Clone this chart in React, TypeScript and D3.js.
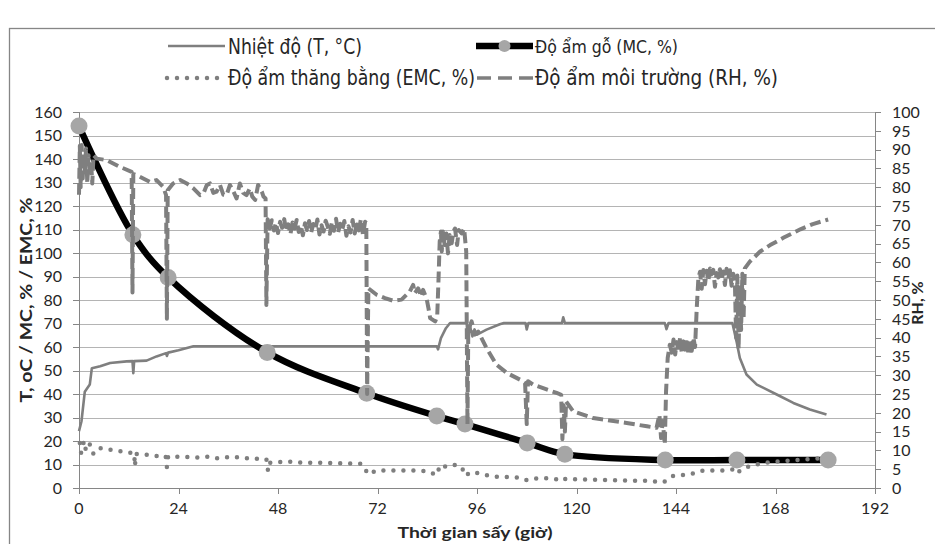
import React from 'react';
import * as d3 from 'd3';

// ---------- data ----------
const xTickValues = [0, 24, 48, 72, 96, 120, 144, 168, 192];
const leftTickValues = [0, 10, 20, 30, 40, 50, 60, 70, 80, 90, 100, 110, 120, 130, 140, 150, 160];
const rightTickValues = [0, 5, 10, 15, 20, 25, 30, 35, 40, 45, 50, 55, 60, 65, 70, 75, 80, 85, 90, 95, 100];

const legendLabels = [
  'Nhiệt độ (T, °C)',
  'Độ ẩm gỗ (MC, %)',
  'Độ ẩm thăng bằng (EMC, %)',
  'Độ ẩm môi trường (RH, %)',
];
const xTitle = 'Thời gian sấy (giờ)';
const yLeftTitle = 'T, oC / MC, % / EMC, %';
const yRightTitle = 'RH, %';

// Temperature T (left axis) : [hour, °C]
const tempData: [number, number][] = [
  [0, 24.2], [0.6, 28.4], [1.4, 41], [2.6, 44], [3.1, 51], [5.1, 51.8], [7.5, 53.2], [11.5, 53.9],
  [12.9, 54], [13.1, 48.9], [13.3, 54], [16.3, 54.2], [18.7, 56], [21, 57.4], [21.2, 56.2], [21.5, 57.6],
  [24, 58.6], [27.6, 60.3], [86.3, 60.3], [86.6, 59], [87.3, 63.8], [88.5, 68], [89.5, 70.2],
  [93.5, 70.2], [93.8, 63.8], [94.3, 69], [94.9, 64.5], [95.4, 67.5], [95.9, 65.2], [98.3, 67.4],
  [101.5, 69.7], [102.5, 70.2], [107.7, 70.2], [108, 67.5], [108.4, 70.2], [116.5, 70.2], [116.8, 72.6],
  [117.2, 70.2], [141.3, 70.2], [141.7, 67.6], [142.2, 70.2], [157.6, 70.2], [158.6, 62.4],
  [159.4, 55.3], [161, 48.3], [163.5, 44], [168.3, 39.8], [172.3, 36.2], [176.3, 33.4], [180.3, 31.3],
];

// Wood moisture content MC (left axis), measured points
const mcHours = [0, 13, 21.5, 45.4, 69.4, 86.3, 93.1, 108.1, 117.2, 141.4, 158.7, 180.7];
const mcValues = [154, 107.8, 89.6, 57.7, 40.3, 30.6, 27.2, 19.2, 14.4, 11.9, 11.9, 11.9];

// Equilibrium moisture content EMC (left axis)
const emcData: [number, number][] = [
  [0.2, 19.2], [0.5, 15], [1.2, 20], [1.7, 15.7], [2.6, 18.5], [3.4, 14.6], [4.6, 17.1], [7, 16.4],
  [9.9, 15.7], [12.3, 15], [13.3, 14.8], [13.5, 9.3], [13.7, 14.5], [15.9, 14.3], [18.7, 13.6],
  [20.9, 13.6], [21.2, 8.9], [21.5, 13.4], [24, 13.3], [26.4, 13.2], [28.8, 12.9], [31.2, 13.3],
  [33.2, 12.6], [35, 13], [37.2, 13.3], [39, 12.8], [41.2, 12.6], [45.2, 12.2], [45.6, 7.2],
  [46.1, 10.7], [48, 11], [50.9, 11.2], [54.9, 10.7], [59.7, 10.7], [64.6, 10.5], [68.2, 10.3],
  [69.8, 5.8], [71.8, 7.5], [75.8, 7.5], [79.8, 7.5], [83.9, 7.2], [86.3, 5.5], [87.1, 9.8],
  [88.7, 9], [90, 9.8], [91.5, 9.8], [92.3, 8.6], [93.5, 5.1], [94, 6.5], [95.9, 6.5], [98.3, 5.5],
  [101.1, 4.7], [103.5, 4.7], [106.2, 4.4], [108, 3.3], [110.4, 4.1], [112.8, 4.1], [115.2, 3.7],
  [116.7, 3], [117.4, 4], [120, 3.7], [125, 3.5], [130, 3.3], [135, 3.1], [138.5, 3], [140.1, 2.3],
  [141.7, 3], [143.3, 5.1], [147.4, 5.8], [150.6, 7.5], [153.8, 7.5], [156.6, 7.5], [157.8, 7.9],
  [158.6, 6.1], [159.8, 7.9], [161.8, 9.3], [164.3, 10.3], [167.5, 11.2], [172.3, 11.8],
  [175.5, 12.2], [180.3, 12.9],
];

// Relative humidity RH (right axis)
const rhData: [number, number][] = [
  [0, 78], [0.2, 91], [0.4, 80], [0.65, 91.2], [0.9, 82.3], [1.1, 89], [1.4, 84], [1.7, 90.3],
  [2, 81], [2.3, 88.5], [2.6, 83], [2.9, 87], [3.2, 81], [3.5, 88.5], [4.3, 87.6], [6.7, 87.2],
  [9.9, 85.4], [12.7, 84.1], [12.9, 52], [13.1, 83.5], [13.9, 83.2], [17.1, 81.4], [18.7, 81.9],
  [20.3, 80.1], [21, 77.9], [21.2, 45], [21.4, 79.2], [22.7, 81], [24.4, 81.9], [26, 81],
  [27.6, 79.7], [29.2, 77.9], [30, 78.3], [30.8, 80.5], [31.6, 81], [32.4, 78.5], [33.2, 78.8],
  [34, 80.6], [34.8, 78], [35.6, 77.9], [36.4, 80.6], [37.2, 79], [38, 77], [38.8, 81], [39.6, 78.5],
  [40.4, 77.9], [41.2, 79.7], [41.8, 77.5], [42.5, 76.6], [43.2, 80.6], [44.1, 78.8], [44.5, 77.5],
  [45, 77], [45.2, 48.7], [45.5, 71.5], [46, 69], [46.5, 71.2], [47, 68.5], [47.5, 70.5], [48, 67.8],
  [48.5, 70.8], [49, 69.2], [49.5, 71.5], [50, 68.3], [50.5, 70.1], [51, 67.5], [51.5, 70.6],
  [52, 69], [52.5, 71.3], [53, 68.1], [53.5, 69.8], [54, 67.2], [54.5, 70.4], [55, 68.6], [55.5, 71],
  [56, 67.9], [56.5, 70.2], [57, 68.8], [57.5, 71.4], [58, 67.4], [58.5, 69.9], [59, 68.2],
  [59.5, 71.1], [60, 69.5], [60.5, 67.6], [61, 70.7], [61.5, 68.4], [62, 71.6], [62.5, 67.9],
  [63, 70.3], [63.5, 68.7], [64, 71], [64.5, 67.1], [65, 69.6], [65.5, 68], [66, 71.3], [66.5, 67.7],
  [67, 70.1], [67.5, 68.5], [68, 71.5], [68.5, 67.3], [69, 70.8], [69.3, 70.5], [69.5, 25],
  [69.8, 53.1], [71.8, 51.4], [73.8, 50.5], [75.8, 49.8], [77.8, 50.1], [79, 51.4], [79.8, 52.3],
  [80.6, 54], [81, 51.8], [81.8, 53.1], [82.6, 50.9], [83, 52.7], [83.9, 50.1], [84.3, 47.8],
  [84.7, 45.2], [85.9, 44.3], [86.4, 45.6], [86.7, 54.9], [87, 65.5], [87.3, 68.2], [87.5, 62.9],
  [87.8, 68.2], [88.2, 64.6], [88.6, 67.7], [89, 62.4], [89.4, 67.3], [89.9, 65.1], [90.3, 68.2],
  [90.7, 69], [91.2, 64.6], [91.6, 68.6], [92.3, 67.7], [92.9, 69], [93.4, 62.9], [93.7, 17],
  [93.9, 42.1], [94.7, 44.3], [95.5, 40.8], [96.3, 41.6], [98.3, 37.2], [100.7, 32.8], [103.2, 30.6],
  [106.4, 28.8], [107.6, 27.9], [108, 17], [108.3, 28.4], [109.5, 27.5], [112.8, 26.2], [115.2, 25.3],
  [116.3, 24.8], [116.6, 13], [116.9, 22], [117.2, 15], [117.5, 23], [119.2, 20.4], [124, 18.6],
  [132.1, 17.3], [137, 16.4], [139.3, 16], [140, 19.5], [140.4, 13.3], [140.8, 17.8], [141.3, 11.6],
  [141.6, 25.7], [142, 34.6], [142.5, 38.1], [143, 36], [143.4, 39.5], [143.8, 35.5], [144.2, 38.8],
  [144.6, 36.2], [145, 40.2], [145.4, 35.8], [145.8, 39], [146.2, 36.8], [146.6, 39.8], [147, 35.4],
  [147.4, 38.5], [147.8, 36.5], [148.2, 40], [148.6, 37.5], [149, 47.8], [149.4, 55.8], [149.8, 57.5],
  [150.2, 53], [150.6, 58], [151, 54.2], [151.4, 57.8], [151.8, 55], [152.2, 58.4], [152.6, 56.8],
  [153, 58], [153.4, 53.5], [153.8, 57.2], [154.2, 56], [154.6, 58.2], [155, 55.2], [155.4, 57.6],
  [155.8, 54], [156.2, 58.3], [156.6, 55.5], [157, 57.9], [157.4, 53.8], [157.8, 57], [158.2, 55],
  [158.5, 40], [158.8, 56.5], [159.1, 37], [159.4, 54], [159.7, 42], [160, 57], [160.3, 45],
  [160.6, 58.4], [161.8, 60.2], [164.3, 62.9], [166.7, 64.6], [170, 66.6], [174, 68.8], [177, 70.2],
  [180.7, 71.4],
];

// ---------- chart ----------
const W = 935;
const H = 544;
const GRID = '#b4b4b4';
const AXIS = '#868686';
const SERIES = '#7f7f7f';
const MARK = '#a6a6a6';
const TEXT = '#262626';
const NUM_FONT = 'Lato, "Open Sans", sans-serif';
const LEG_FONT = '"Liberation Sans Narrow", "Arial Narrow", "DejaVu Sans Condensed", "Liberation Sans", sans-serif';

export default function App() {
  const x = d3.scaleLinear().domain([0, 192]).range([79, 875]);
  const yL = d3.scaleLinear().domain([0, 160]).range([488, 112]);
  const yR = d3.scaleLinear().domain([0, 100]).range([488, 112]);

  const lineL = d3.line<[number, number]>().x((d) => x(d[0])).y((d) => yL(d[1]));
  const lineR = d3.line<[number, number]>().x((d) => x(d[0])).y((d) => yR(d[1]));
  const mcPoints: [number, number][] = mcHours.map((h, i) => [h, mcValues[i]]);
  const mcLine = d3
    .line<[number, number]>()
    .curve(d3.curveCatmullRom.alpha(0.5))
    .x((d) => x(d[0]))
    .y((d) => yL(d[1]));

  const [x0, x1] = x.range();
  const yBottom = yL(0);
  const yTop = yL(160);

  return (
    <svg
      width={W}
      height={H}
      style={{ position: 'absolute', left: 0, top: 0, background: '#fff' }}
      xmlns="http://www.w3.org/2000/svg"
    >
      <rect x={0} y={0} width={W} height={H} fill="#fff" />
      {/* chart frame */}
      <rect x={9.5} y={28.5} width={1000} height={1000} fill="none" stroke={AXIS} strokeWidth={1.3} />

      {/* gridlines */}
      {leftTickValues.map((v) => (
        <line key={'g' + v} x1={x0} x2={x1} y1={Math.round(yL(v)) + 0.5} y2={Math.round(yL(v)) + 0.5} stroke={GRID} strokeWidth={1} />
      ))}

      {/* axes */}
      <line x1={x0 + 0.5} x2={x0 + 0.5} y1={yTop} y2={yBottom} stroke={AXIS} />
      <line x1={x1 + 0.5} x2={x1 + 0.5} y1={yTop} y2={yBottom} stroke={AXIS} />
      <line x1={x0} x2={x1} y1={Math.round(yBottom) + 0.5} y2={Math.round(yBottom) + 0.5} stroke={AXIS} />

      {/* left ticks + labels */}
      {leftTickValues.map((v) => (
        <g key={'l' + v}>
          <line x1={x0 - 6} x2={x0} y1={Math.round(yL(v)) + 0.5} y2={Math.round(yL(v)) + 0.5} stroke={AXIS} />
          <text x={62} y={yL(v)} dy="0.36em" textAnchor="end" fontFamily={NUM_FONT} fontSize={16} fill={TEXT}>
            {v}
          </text>
        </g>
      ))}
      {/* right ticks + labels */}
      {rightTickValues.map((v) => (
        <g key={'r' + v}>
          <line x1={x1} x2={x1 + 6} y1={Math.round(yR(v)) + 0.5} y2={Math.round(yR(v)) + 0.5} stroke={AXIS} />
          <text x={892} y={yR(v)} dy="0.36em" textAnchor="start" fontFamily={NUM_FONT} fontSize={16} fill={TEXT}>
            {v}
          </text>
        </g>
      ))}
      {/* bottom ticks + labels */}
      {xTickValues.map((v) => (
        <g key={'x' + v}>
          <line x1={Math.round(x(v)) + 0.5} x2={Math.round(x(v)) + 0.5} y1={yBottom} y2={yBottom + 6} stroke={AXIS} />
          <text x={x(v)} y={514} textAnchor="middle" fontFamily={NUM_FONT} fontSize={16} fill={TEXT}>
            {v}
          </text>
        </g>
      ))}

      {/* axis titles */}
      <text
        x={475}
        y={538}
        textAnchor="middle"
        fontFamily={NUM_FONT}
        fontWeight={700}
        fontSize={16}
        fill={TEXT}
        textLength={155}
        lengthAdjust="spacingAndGlyphs"
      >
        {xTitle}
      </text>
      <text
        transform="translate(26,300) rotate(-90)"
        textAnchor="middle"
        dy="0.35em"
        fontFamily={NUM_FONT}
        fontWeight={700}
        fontSize={17}
        fill={TEXT}
        textLength={205}
        lengthAdjust="spacingAndGlyphs"
      >
        {yLeftTitle}
      </text>
      <text
        transform="translate(917,303) rotate(-90)"
        textAnchor="middle"
        dy="0.35em"
        fontFamily={NUM_FONT}
        fontWeight={700}
        fontSize={16}
        fill={TEXT}
      >
        {yRightTitle}
      </text>

      {/* series */}
      <path d={lineL(tempData) || ''} fill="none" stroke={SERIES} strokeWidth={2.6} strokeLinejoin="round" />
      <path d={mcLine(mcPoints) || ''} fill="none" stroke="#000" strokeWidth={6.5} strokeLinejoin="round" />
      {mcPoints.map((d, i) => (
        <circle key={'m' + i} cx={x(d[0])} cy={yL(d[1])} r={8.5} fill={MARK} />
      ))}
      <path
        d={lineL(emcData) || ''}
        fill="none"
        stroke={SERIES}
        strokeWidth={4.5}
        strokeLinecap="round"
        strokeDasharray="0 10"
      />
      <path
        d={lineR(rhData) || ''}
        fill="none"
        stroke={SERIES}
        strokeWidth={4}
        strokeDasharray="11 5"
        strokeLinejoin="round"
      />

      {/* legend */}
      <g>
        <line x1={168} x2={225} y1={46} y2={46} stroke={SERIES} strokeWidth={2.6} />
        <text x={228} y={54} fontFamily={LEG_FONT} fontSize={22} fill={TEXT} textLength={134} lengthAdjust="spacingAndGlyphs">
          {legendLabels[0]}
        </text>
        <line x1={476} x2={533} y1={46} y2={46} stroke="#000" strokeWidth={6.5} />
        <circle cx={504.5} cy={46} r={6} fill={MARK} />
        <text x={535} y={53} fontFamily={LEG_FONT} fontSize={18} fill={TEXT} textLength={143} lengthAdjust="spacingAndGlyphs">
          {legendLabels[1]}
        </text>
        <line
          x1={167}
          x2={222}
          y1={78}
          y2={78}
          stroke={SERIES}
          strokeWidth={4.5}
          strokeLinecap="round"
          strokeDasharray="0 10"
        />
        <text x={228} y={85} fontFamily={LEG_FONT} fontSize={22} fill={TEXT} textLength={247} lengthAdjust="spacingAndGlyphs">
          {legendLabels[2]}
        </text>
        <line x1={477} x2={533} y1={78} y2={78} stroke={SERIES} strokeWidth={3.6} strokeDasharray="14 7" />
        <text x={535} y={85} fontFamily={LEG_FONT} fontSize={22} fill={TEXT} textLength={243} lengthAdjust="spacingAndGlyphs">
          {legendLabels[3]}
        </text>
      </g>
    </svg>
  );
}
